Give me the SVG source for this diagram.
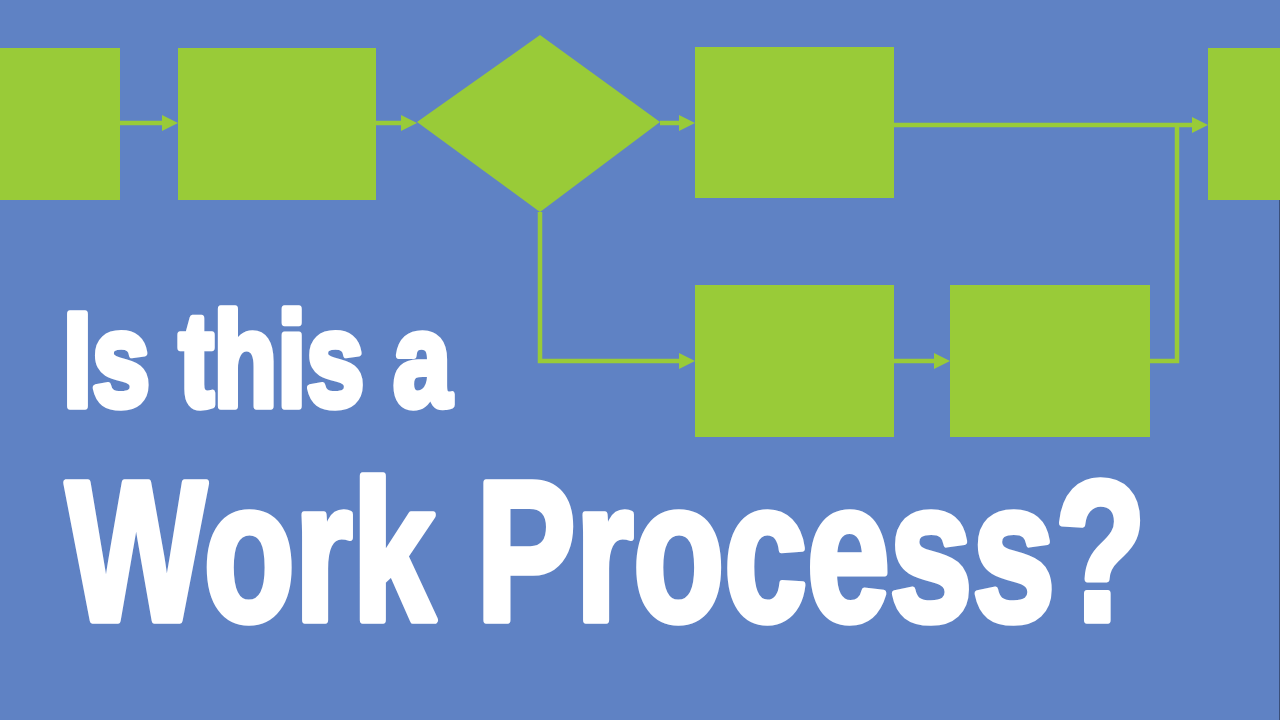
<svg xmlns="http://www.w3.org/2000/svg" width="1280" height="720" viewBox="0 0 1280 720">
<style>
.node{fill:#99CB38}
.conn{stroke:#99CB38;stroke-width:4.5;fill:none}
.head{fill:#99CB38}
.title{font-family:"Liberation Sans Narrow","Liberation Sans",Arial,sans-serif;font-weight:bold;fill:#FFFFFF;stroke:#FFFFFF;stroke-width:7.5;stroke-linejoin:round}
</style>
<rect x="0" y="0" width="1280" height="720" fill="#5F82C4"/>
<line x1="1279.5" y1="200" x2="1279.5" y2="720" stroke="#3A4F7A" stroke-width="1"/>
<g id="connectors">
  <path class="conn" d="M120 123 H163"/>
  <polygon class="head" points="178,123 162,115 162,131"/>
  <path class="conn" d="M376 123 H402"/>
  <polygon class="head" points="417,123 401,115 401,131"/>
  <path class="conn" d="M660 123 H680"/>
  <polygon class="head" points="695,123 679,115 679,131"/>
  <path class="conn" d="M894 125 H1193"/>
  <polygon class="head" points="1208,125 1192,117 1192,133"/>
  <path class="conn" d="M1150 361 H1177 V125"/>
  <path class="conn" d="M540 212 V361 H680"/>
  <polygon class="head" points="695,361 679,353 679,369"/>
  <path class="conn" d="M894 361 H935"/>
  <polygon class="head" points="950,361 934,353 934,369"/>
</g>
<g id="node-start"><rect class="node" x="0" y="48" width="120" height="152"/></g>
<g id="node-step1"><rect class="node" x="178" y="48" width="198" height="152"/></g>
<g id="node-decision"><polygon class="node" points="417,122 540,35 660,122 540,212"/></g>
<g id="node-step2"><rect class="node" x="695" y="47" width="199" height="151"/></g>
<g id="node-step3"><rect class="node" x="695" y="285" width="199" height="152"/></g>
<g id="node-step4"><rect class="node" x="950" y="285" width="200" height="152"/></g>
<g id="node-end"><rect class="node" x="1208" y="48" width="72" height="152"/></g>
<g id="title">
  <text class="title" transform="translate(63,406) scale(0.778,1)" x="0" y="0" font-size="134">Is this a</text>
  <text class="title" transform="translate(66,620) scale(0.751,1)" x="0" y="0" font-size="198">Work Process?</text>
</g>
</svg>
